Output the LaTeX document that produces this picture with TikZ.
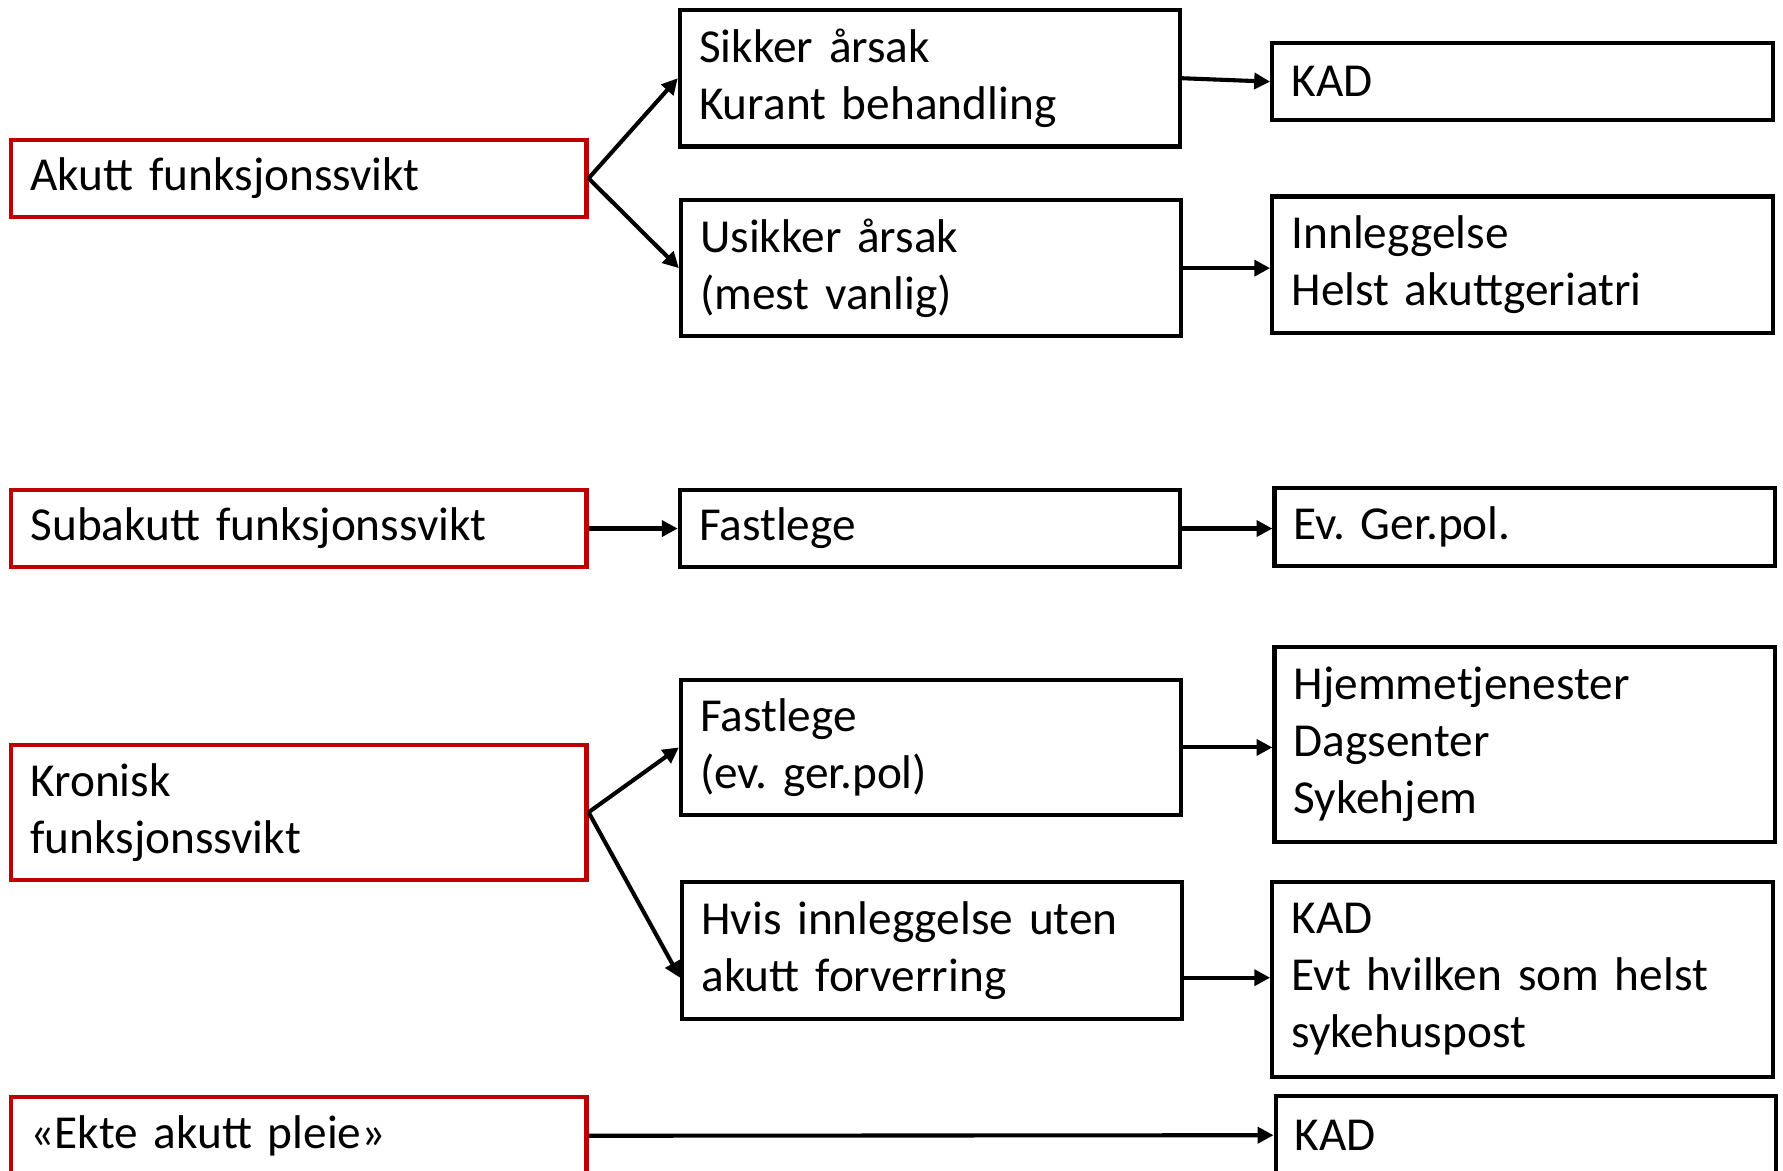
\documentclass[tikz,border=0pt]{standalone}
\usepackage{fontspec}
\setmainfont{Carlito}
\usetikzlibrary{arrows.meta}
\definecolor{boxred}{RGB}{192,0,0}
\begin{document}
\frenchspacing
\begin{tikzpicture}[x=0.5pt,y=-0.5pt,
  every node/.style={font=\fontsize{20.8pt}{25pt}\selectfont\frenchspacing, anchor=north west, align=left, inner xsep=8.5pt, inner ysep=0pt, line width=1.8pt},
  redbox/.style={draw=boxred, minimum width=253pt, text width=236pt},
  midbox/.style={draw=black, minimum width=220pt, text width=203pt},
  conn/.style={line width=1.8pt, -{Triangle[length=7pt,width=7pt]}}
]
\useasboundingbox (0,0) rectangle (1568,1029);
% left column
\node[redbox, minimum height=34pt] (akutt) at (8,121) {Akutt funksjonssvikt};
\node[redbox, minimum height=34pt] (sub) at (8,429) {Subakutt funksjonssvikt};
\node[redbox, minimum height=59.5pt] (kron) at (8,653) {Kronisk\\funksjonssvikt};
\node[redbox, minimum height=34pt] (ekte) at (8,963) {«Ekte akutt pleie»};
% middle column
\node[midbox, minimum height=60pt] (sikker) at (596,7) {Sikker årsak\\Kurant behandling};
\node[midbox, minimum height=60pt] (usikker) at (597,174) {Usikker årsak\\(mest vanlig)};
\node[midbox, minimum height=34pt] (fast1) at (596,429) {Fastlege};
\node[midbox, minimum height=59.5pt] (fast2) at (597,596) {Fastlege\\(ev. ger.pol)};
\node[midbox, minimum height=60pt] (hvis) at (598,774) {Hvis innleggelse uten\\akutt forverring};
% right column
\node[midbox, minimum height=34pt] (kad1) at (1117,36) {KAD};
\node[midbox, minimum height=60pt] (innl) at (1117,171) {Innleggelse\\Helst akuttgeriatri};
\node[midbox, minimum height=34.5pt] (ger) at (1119,427) {Ev. Ger.pol.};
\node[midbox, minimum height=86pt] (hjem) at (1119,567) {Hjemmetjenester\\Dagsenter\\Sykehjem};
\node[midbox, minimum height=85.5pt] (kad2) at (1117,774) {KAD\\Evt hvilken som helst\\sykehuspost};
\node[midbox, minimum height=34.5pt] (kad3) at (1120,962) {KAD};
% connectors
\draw[conn] (akutt.east) -- (sikker.west);
\draw[conn] (akutt.east) -- (usikker.west);
\draw[conn] (sikker.east) -- (kad1.west);
\draw[conn] (usikker.east) -- (usikker.east -| innl.west);
\draw[conn] (sub.east) -- (sub.east -| fast1.west);
\draw[conn] (fast1.east) -- (fast1.east -| ger.west);
\draw[conn] (kron.east) -- (fast2.west);
\draw[conn] (kron.east) -- ([yshift=-12pt]hvis.west);
\draw[conn] (fast2.east) -- (fast2.east -| hjem.west);
\coordinate (hvisout) at ([yshift=-12pt]hvis.east);
\draw[conn] (hvisout) -- (hvisout -| kad2.west);
\draw[conn] (ekte.east) -- (kad3.west);
\end{tikzpicture}
\end{document}
